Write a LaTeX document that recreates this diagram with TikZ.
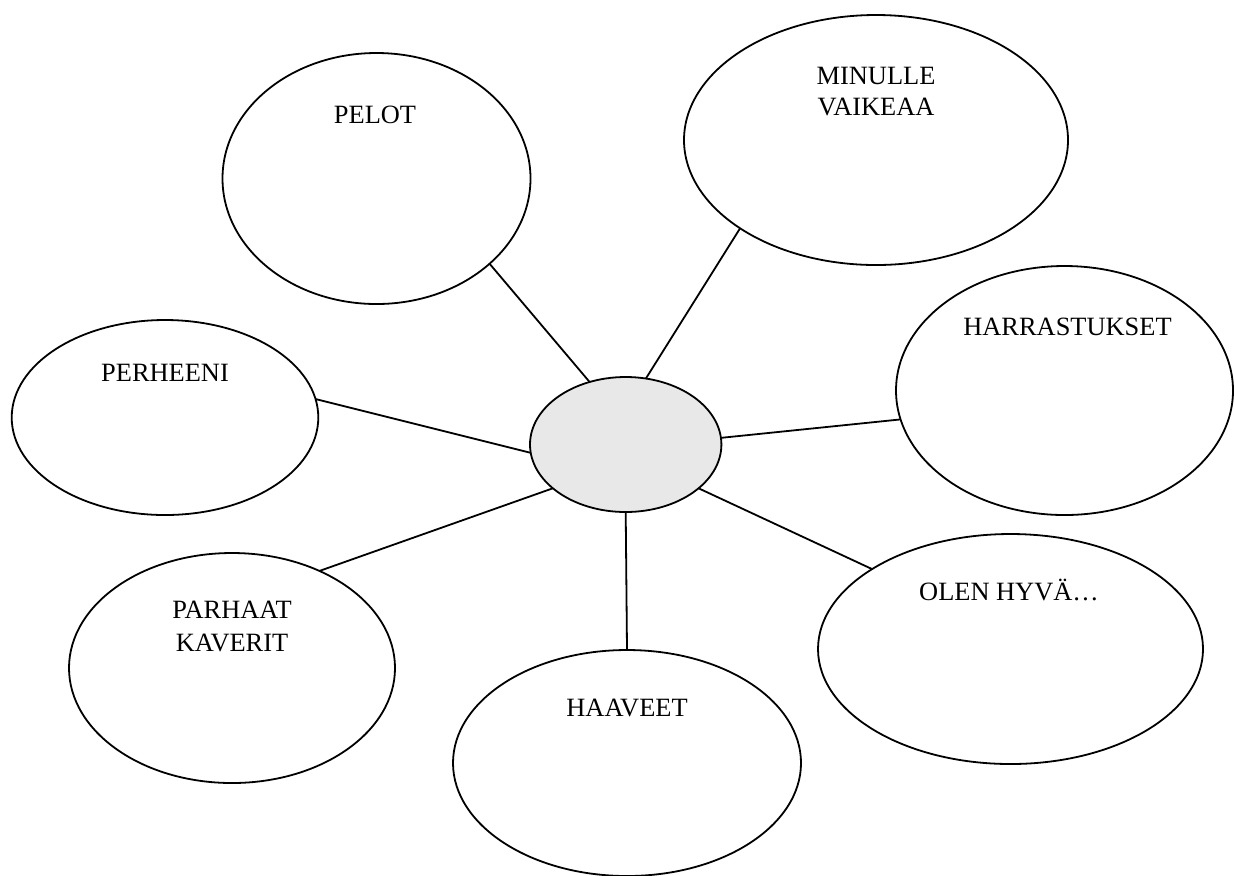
\documentclass[tikz,border=0pt]{standalone}
\usepackage{fontspec}
\setmainfont{Liberation Serif}
\usetikzlibrary{shapes.geometric}
\definecolor{hubgray}{RGB}{232,232,232}
\begin{document}
\begin{tikzpicture}[x=0.5pt,y=-0.5pt,
  bubble/.style={draw=black,line width=0.9pt,ellipse,inner sep=0pt,outer sep=0pt,fill=white},
  hub/.style={bubble,fill=hubgray},
  label/.style={anchor=base,inner sep=0pt,font=\fontsize{13.2}{15.5}\selectfont},
  link/.style={draw=black,line width=0.9pt}]
\useasboundingbox[fill=white] (0,0) rectangle (1234,875);
% ellipses
\node[bubble,minimum width=154pt,minimum height=125.5pt] (pelot) at (376.5,178.5) {};
\node[bubble,minimum width=192pt,minimum height=125pt] (minulle) at (876,140) {};
\node[bubble,minimum width=168.5pt,minimum height=124.5pt] (harr) at (1064.5,390.5) {};
\node[bubble,minimum width=153.3pt,minimum height=97.5pt] (perh) at (165,417.5) {};
\node[bubble,minimum width=163pt,minimum height=115pt] (parh) at (232,668) {};
\node[bubble,minimum width=174pt,minimum height=113pt] (haav) at (627,763) {};
\node[bubble,minimum width=192.5pt,minimum height=115pt] (olen) at (1010.5,649) {};
\node[hub,minimum width=95.7pt,minimum height=67.5pt] (hub) at (625.7,444.5) {};
% connectors
\draw[link] (pelot.-37) -- (hub.120.7);
\draw[link] (minulle.-147) -- (hub.73);
\draw[link] (harr.-170.7) -- (hub.4.5);
\draw[link] (perh.7.6) -- (hub.185.7);
\draw[link] (parh.48.8) -- (hub.211.9);
\draw[link] (hub.south) -- (haav.north);
\draw[link] (olen.150.4) -- (hub.-31.6);
% labels
\node[label] (tpelot) at (375,123) {PELOT};
\node[label] (tmin1) at (876,84) {MINULLE};
\node[label] (tmin2) at (876,115) {VAIKEAA};
\node[label] (tharr) at (1067.5,335) {HARRASTUKSET};
\node[label] (tperh) at (165,381) {PERHEENI};
\node[label] (tparh1) at (232,618) {PARHAAT};
\node[label] (tparh2) at (232,651) {KAVERIT};
\node[label] (thaav) at (627,716) {HAAVEET};
\node[label] (tolen) at (1009,600) {OLEN HYVÄ…};
\end{tikzpicture}
\end{document}
